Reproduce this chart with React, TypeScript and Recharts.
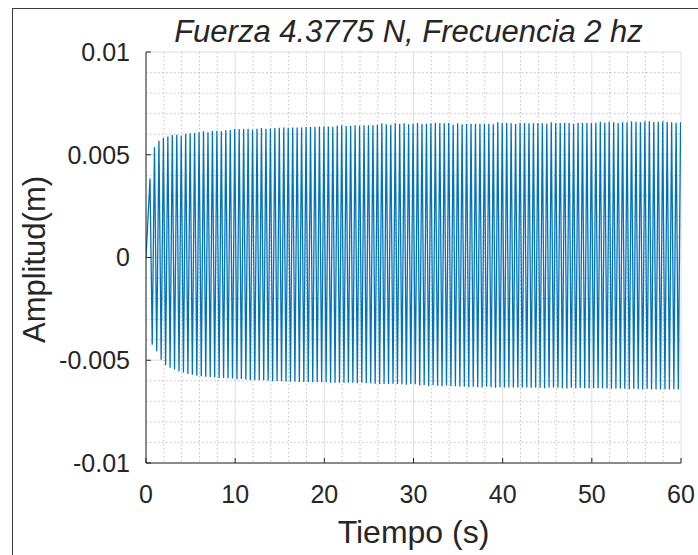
import React from 'react';
import { LineChart, Line, XAxis, YAxis, CartesianGrid, Label } from 'recharts';

// Successive positive peaks of the displacement (m), one per cycle.
const upperPeaks = [
  0.00384, 0.00536, 0.00568, 0.00581, 0.00589, 0.00596, 0.00597, 0.00594, 0.00602, 0.00604,
  0.00606, 0.0061, 0.00614, 0.0061, 0.00615, 0.00617, 0.00614, 0.00619, 0.0062, 0.00625,
  0.00625, 0.00625, 0.00627, 0.00622, 0.00627, 0.0063, 0.00627, 0.00628, 0.0063, 0.00631,
  0.00633, 0.00631, 0.00633, 0.00633, 0.00633, 0.00635, 0.00635, 0.00636, 0.00638, 0.00638,
  0.00638, 0.00636, 0.00641, 0.00643, 0.0064, 0.00641, 0.00643, 0.00641, 0.00643, 0.00644,
  0.00643, 0.00646, 0.00653, 0.00648, 0.00646, 0.00653, 0.00649, 0.00653, 0.00648, 0.00651,
  0.00655, 0.0065, 0.00651, 0.00653, 0.00656, 0.00653, 0.00653, 0.00655, 0.00646, 0.00653,
  0.00648, 0.0065, 0.00651, 0.00651, 0.00651, 0.00651, 0.00651, 0.00648, 0.00658, 0.00655,
  0.00655, 0.00653, 0.0065, 0.00655, 0.00655, 0.00653, 0.00653, 0.00655, 0.00653, 0.00651,
  0.00658, 0.00655, 0.00655, 0.00655, 0.00655, 0.00651, 0.00655, 0.00655, 0.00655, 0.00655,
  0.00656, 0.00661, 0.00656, 0.00661, 0.00658, 0.00655, 0.00658, 0.00658, 0.00663, 0.00661,
  0.00658, 0.00663, 0.00663, 0.00659, 0.00661, 0.00663, 0.00661, 0.00658, 0.00656, 0.00658,
];

// Successive negative peaks of the displacement (m), one per cycle.
const lowerPeaks = [
  -0.00424, -0.00456, -0.00497, -0.00524, -0.00537, -0.00545, -0.00554, -0.0056, -0.00567, -0.00571,
  -0.00575, -0.00578, -0.0058, -0.00581, -0.00583, -0.00586, -0.00586, -0.00588, -0.00589, -0.00593,
  -0.00591, -0.00594, -0.00596, -0.00596, -0.00597, -0.00597, -0.00599, -0.00602, -0.00602, -0.00602,
  -0.00604, -0.00604, -0.00604, -0.00606, -0.00606, -0.00606, -0.00607, -0.00607, -0.00607, -0.00607,
  -0.00609, -0.00609, -0.00609, -0.00609, -0.0061, -0.0061, -0.00612, -0.0061, -0.00612, -0.00612,
  -0.00614, -0.00615, -0.00615, -0.00615, -0.00614, -0.00615, -0.00617, -0.00619, -0.00615, -0.00617,
  -0.00623, -0.00621, -0.00626, -0.00621, -0.00624, -0.00626, -0.00623, -0.00626, -0.00626, -0.00628,
  -0.00628, -0.00631, -0.00629, -0.00631, -0.00632, -0.00629, -0.00631, -0.00634, -0.00631, -0.00632,
  -0.00632, -0.00632, -0.00632, -0.00632, -0.00632, -0.00634, -0.00632, -0.00634, -0.00636, -0.00632,
  -0.00632, -0.00634, -0.00636, -0.00637, -0.00634, -0.00636, -0.00634, -0.00636, -0.00636, -0.00636,
  -0.00636, -0.00636, -0.00637, -0.00639, -0.00637, -0.00637, -0.00639, -0.00641, -0.00639, -0.00641,
  -0.00642, -0.00639, -0.00642, -0.00642, -0.00642, -0.00641, -0.00642, -0.00641, -0.00642,
];

const xTicks = [0, 10, 20, 30, 40, 50, 60];
const xTickLabels = ['0', '10', '20', '30', '40', '50', '60'];
const yTicks = [-0.01, -0.005, 0, 0.005, 0.01];
const yTickLabels = ['-0.01', '-0.005', '0', '0.005', '0.01'];
const xMinorTicks = [
  2, 4, 6, 8, 12, 14, 16, 18, 22, 24, 26, 28, 32, 34, 36, 38, 42, 44, 46, 48, 52, 54, 56, 58,
];
const yMinorTicks = [
  -0.009, -0.008, -0.007, -0.006, -0.004, -0.003, -0.002, -0.001,
  0.001, 0.002, 0.003, 0.004, 0.006, 0.007, 0.008, 0.009,
];

const TITLE = 'Fuerza 4.3775 N, Frecuencia 2 hz';
const X_LABEL = 'Tiempo (s)';
const Y_LABEL = 'Amplitud(m)';

// Excitation frequency and timing of the first crest.
const FREQ_HZ = 2;
const PERIOD_S = 1 / FREQ_HZ;
const FIRST_CREST_S = 0.45;

// Time series: start at rest, then alternate crest / trough each half period.
const signal: { t: number; v: number }[] = [{ t: 0, v: 0 }];
upperPeaks.forEach((up, k) => {
  const tc = FIRST_CREST_S + k * PERIOD_S;
  signal.push({ t: tc, v: up });
  if (k < lowerPeaks.length) {
    signal.push({ t: tc + PERIOD_S / 2, v: lowerPeaks[k] });
  }
});

const FONT = '"Liberation Sans", Arial, Helvetica, sans-serif';
const TEXT = '#262626';
const AXIS = '#262626';

export default function App() {
  return (
    <div
      style={{
        position: 'absolute',
        left: 0,
        top: 0,
        width: 698,
        height: 555,
        background: '#ffffff',
        overflow: 'hidden',
        fontFamily: FONT,
      }}
    >
      <div
        style={{
          position: 'absolute',
          left: 12,
          top: 8,
          right: -2,
          bottom: -2,
          borderTop: '1px solid #3a3a3a',
          borderLeft: '1px solid #3a3a3a',
        }}
      />
      <div
        style={{
          position: 'absolute',
          left: 141,
          width: 535,
          top: 16,
          textAlign: 'center',
          fontStyle: 'italic',
          fontSize: 31,
          lineHeight: '31px',
          color: TEXT,
          whiteSpace: 'nowrap',
        }}
      >
        {TITLE}
      </div>
      <div style={{ position: 'absolute', left: 0, top: 0 }}>
        <LineChart
          width={698}
          height={555}
          data={signal}
          margin={{ top: 52, right: 17, bottom: 0, left: 0 }}
        >
          <CartesianGrid xAxisId="b" yAxisId="l" stroke="#dedede" strokeWidth={1} />
          <CartesianGrid
            xAxisId="b"
            yAxisId="l"
            verticalValues={xMinorTicks}
            horizontalValues={yMinorTicks}
            stroke="#c2c2c2"
            strokeDasharray="1.5 2.5"
          />
          <XAxis
            xAxisId="b"
            dataKey="t"
            type="number"
            domain={[0, 60]}
            ticks={xTicks}
            interval={0}
            allowDataOverflow
            height={92}
            tickSize={-5}
            tickMargin={27}
            stroke={AXIS}
            tickFormatter={(v: number) => xTickLabels[xTicks.indexOf(v)]}
            tick={{ fill: TEXT, fontSize: 25, fontFamily: FONT }}
          >
            <Label
              content={(props: any) => {
                const vb = props.viewBox || { x: 146, y: 463, width: 535 };
                return (
                  <text
                    x={vb.x + vb.width / 2}
                    y={vb.y + 80}
                    textAnchor="middle"
                    fill={TEXT}
                    fontSize={32}
                    fontFamily={FONT}
                  >
                    {X_LABEL}
                  </text>
                );
              }}
            />
          </XAxis>
          <XAxis
            xAxisId="t"
            orientation="top"
            dataKey="t"
            type="number"
            domain={[0, 60]}
            ticks={xTicks}
            interval={0}
            height={0}
            tick={false}
            tickSize={-5}
            stroke={AXIS}
          />
          <YAxis
            yAxisId="l"
            type="number"
            domain={[-0.01, 0.01]}
            ticks={yTicks}
            interval={0}
            allowDataOverflow
            width={146}
            tickSize={-5}
            tickMargin={21}
            stroke={AXIS}
            tickFormatter={(v: number) => yTickLabels[yTicks.indexOf(v)]}
            tick={{ fill: TEXT, fontSize: 25, fontFamily: FONT }}
          >
            <Label
              content={(props: any) => {
                const vb = props.viewBox || { x: 0, y: 52, width: 146, height: 411 };
                const cx = vb.x + 45;
                const cy = vb.y + vb.height / 2 + 2;
                return (
                  <text
                    x={cx}
                    y={cy}
                    transform={`rotate(-90, ${cx}, ${cy})`}
                    textAnchor="middle"
                    fill={TEXT}
                    fontSize={31}
                    fontFamily={FONT}
                  >
                    {Y_LABEL}
                  </text>
                );
              }}
            />
          </YAxis>
          <YAxis
            yAxisId="r"
            orientation="right"
            type="number"
            domain={[-0.01, 0.01]}
            ticks={yTicks}
            interval={0}
            width={0}
            tick={false}
            tickSize={-5}
            stroke={AXIS}
          />
          <Line
            xAxisId="b"
            yAxisId="l"
            dataKey="v"
            type="linear"
            stroke="#0072BD"
            strokeWidth={1.3}
            dot={false}
            activeDot={false}
            isAnimationActive={false}
          />
        </LineChart>
      </div>
    </div>
  );
}
